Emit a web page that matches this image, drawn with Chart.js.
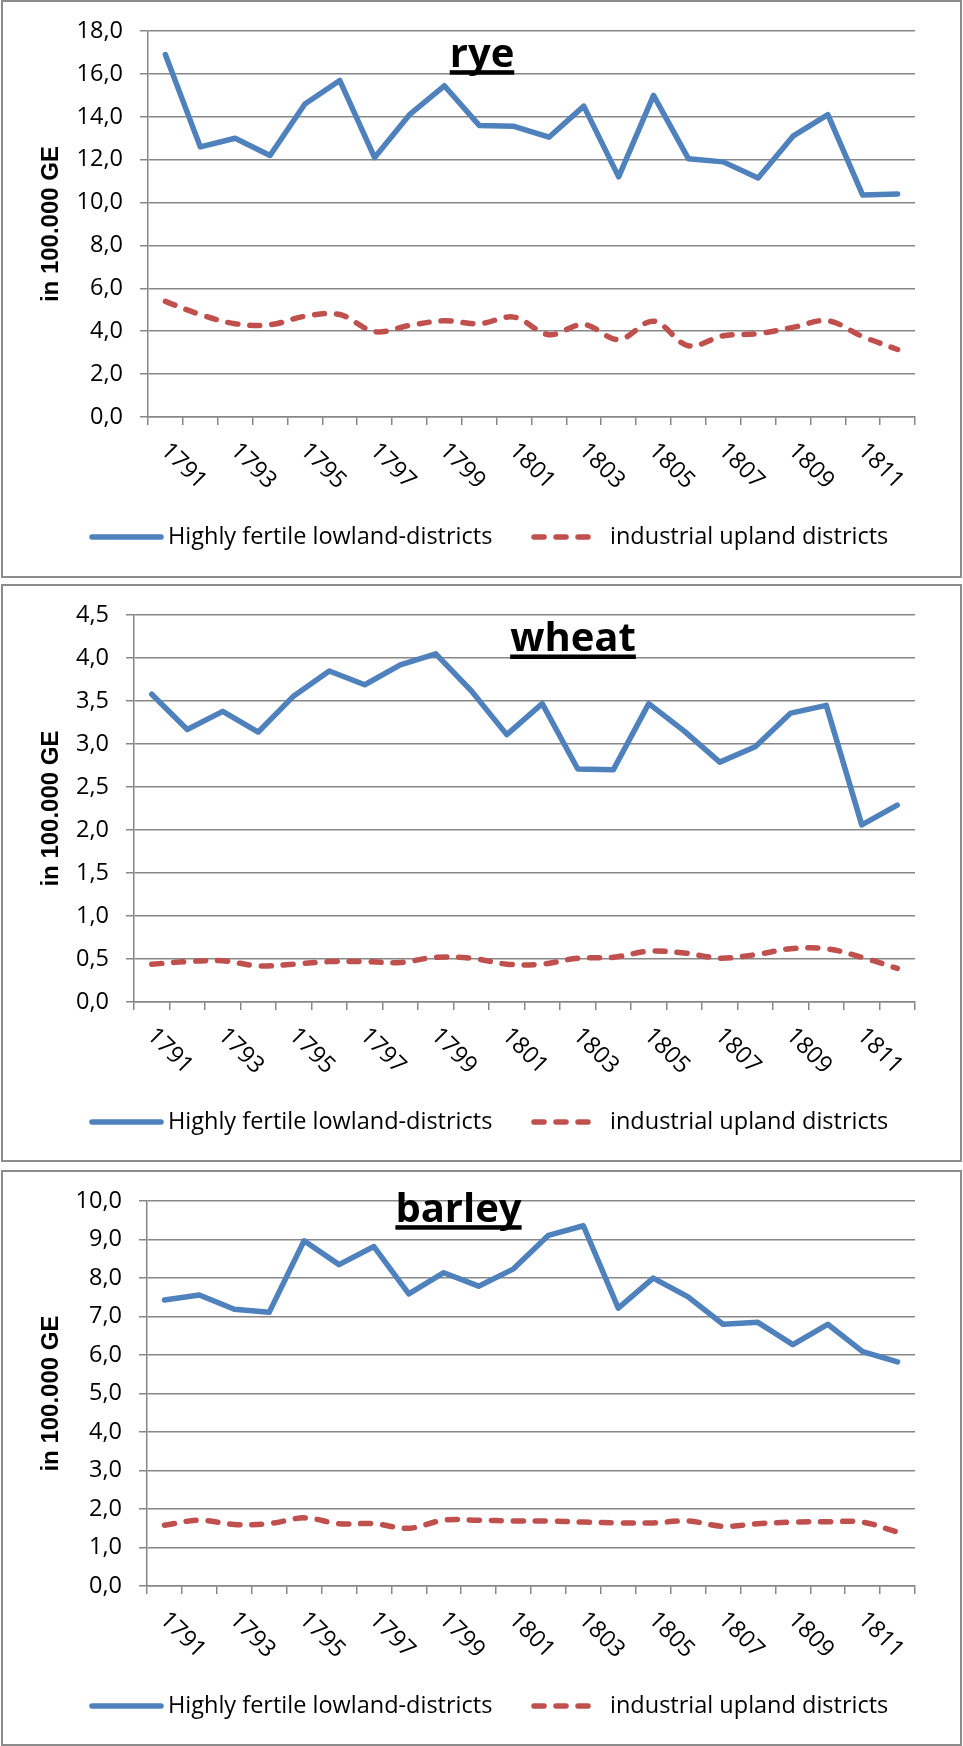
<!DOCTYPE html>
<html>
<head>
<meta charset="utf-8">
<script src="https://cdn.jsdelivr.net/npm/chart.js@4/dist/chart.umd.min.js"></script>
<style>
  body { margin: 0; background: #fff; width: 963px; height: 1746px; position: relative; overflow: hidden; }
  .panel { position: absolute; left: 1px; width: 961px; box-sizing: border-box; border: 2px solid #8c8c8c; }
  .panel canvas { position: absolute; left: -2px; top: -2px; }
</style>
</head>
<body>
<div class="panel" style="top:0;height:578px"><canvas id="rye" width="961" height="578"></canvas></div>
<div class="panel" style="top:584px;height:578px"><canvas id="wheat" width="961" height="578"></canvas></div>
<div class="panel" style="top:1170px;height:576px"><canvas id="barley" width="961" height="576"></canvas></div>
<script>
const years = ['1791', '1792', '1793', '1794', '1795', '1796', '1797', '1798', '1799', '1800', '1801',
  '1802', '1803', '1804', '1805', '1806', '1807', '1808', '1809', '1810', '1811', '1812'];

const seriesNames = ['Highly fertile lowland-districts', 'industrial upland districts'];

const ryeLowland = [16.9, 12.6, 13.0, 12.2, 14.6, 15.7, 12.1, 14.1, 15.45, 13.6, 13.56,
  13.05, 14.5, 11.2, 15.0, 12.05, 11.9, 11.15, 13.1, 14.1, 10.35, 10.4];
const ryeUpland = [5.39, 4.78, 4.35, 4.3, 4.7, 4.78, 3.98, 4.27, 4.49, 4.35, 4.66,
  3.84, 4.32, 3.61, 4.47, 3.32, 3.79, 3.89, 4.18, 4.49, 3.75, 3.15];

const wheatLowland = [3.58, 3.17, 3.38, 3.14, 3.56, 3.85, 3.69, 3.92, 4.05, 3.62, 3.11,
  3.47, 2.71, 2.7, 3.47, 3.15, 2.79, 2.97, 3.36, 3.45, 2.06, 2.29];
const wheatUpland = [0.44, 0.47, 0.48, 0.42, 0.44, 0.47, 0.47, 0.46, 0.52, 0.51, 0.44,
  0.44, 0.51, 0.52, 0.59, 0.57, 0.51, 0.55, 0.62, 0.62, 0.52, 0.39];

const barleyLowland = [7.43, 7.56, 7.19, 7.11, 8.97, 8.35, 8.82, 7.59, 8.14, 7.79, 8.24,
  9.11, 9.36, 7.22, 8.0, 7.51, 6.8, 6.85, 6.27, 6.8, 6.09, 5.82];
const barleyUpland = [1.58, 1.71, 1.6, 1.62, 1.77, 1.62, 1.62, 1.5, 1.71, 1.71, 1.69,
  1.69, 1.66, 1.64, 1.64, 1.69, 1.55, 1.62, 1.66, 1.67, 1.66, 1.4];

const ryeTicks = { max: 18, step: 2 };
const wheatTicks = { max: 4.5, step: 0.5 };
const barleyTicks = { max: 10, step: 1 };

const BLUE = '#4f81bd';
const RED = '#c0504d';
const GRID = '#878787';
const TEXT_FONT = "23.5px 'Open Sans'";

Chart.defaults.font.family = "'Open Sans', sans-serif";
Chart.defaults.font.size = 23.5;
Chart.defaults.color = '#000';

// title, rotated year labels and legend, drawn on top of the chart
const extras = {
  id: 'extras',
  afterDraw(chart, args, o) {
    const { ctx, chartArea } = chart;
    const x = chart.scales.x;
    ctx.save();
    ctx.fillStyle = '#000';

    ctx.font = TEXT_FONT;
    ctx.textAlign = 'left';
    ctx.textBaseline = 'middle';
    chart.data.labels.forEach((lab, i) => {
      if (i % 2) return;
      ctx.save();
      ctx.translate(x.getPixelForTick(i) - 1, x.top + 30);
      ctx.rotate(Math.PI / 4);
      ctx.fillText(lab, 0, 0);
      ctx.restore();
    });

    ctx.font = "bold 40px 'Open Sans'";
    ctx.textAlign = 'center';
    ctx.textBaseline = 'alphabetic';
    ctx.fillText(o.text, o.x, o.y);
    const w = ctx.measureText(o.text).width;
    ctx.fillRect(o.x - w / 2, o.y + 3.5, w, 4.5);

    const ly = chartArea.bottom + 120;
    const slots = [[91, 160, 167], [533, 590, 609]];
    chart.data.datasets.forEach((ds, i) => {
      const [x0, x1, tx] = slots[i];
      ctx.beginPath();
      ctx.lineWidth = ds.borderWidth;
      ctx.strokeStyle = ds.borderColor;
      ctx.lineCap = 'round';
      ctx.setLineDash(ds.borderDash || []);
      ctx.moveTo(x0, ly);
      ctx.lineTo(x1, ly);
      ctx.stroke();
      ctx.setLineDash([]);
      ctx.font = TEXT_FONT;
      ctx.textAlign = 'left';
      ctx.textBaseline = 'middle';
      ctx.fillText(ds.label, tx, ly);
    });
    ctx.restore();
  }
};

function makeChart(id, lowland, upland, ticks, yWidth, top, bottom, title) {
  const canvas = document.getElementById(id);
  return new Chart(canvas, {
    type: 'line',
    data: {
      labels: years,
      datasets: [
        {
          label: seriesNames[0],
          data: lowland,
          borderColor: BLUE,
          borderWidth: 5.5,
          borderJoinStyle: 'round',
          borderCapStyle: 'round',
          pointRadius: 0,
          tension: 0,
        },
        {
          label: seriesNames[1],
          data: upland,
          borderColor: RED,
          borderWidth: 5.5,
          borderDash: [10, 12],
          borderCapStyle: 'round',
          pointRadius: 0,
          tension: 0.35,
        },
      ],
    },
    options: {
      responsive: false,
      animation: false,
      devicePixelRatio: 1,
      layout: { padding: { left: 33, top: top, right: 47, bottom: canvas.height - bottom - 8 } },
      plugins: {
        legend: { display: false },
        tooltip: { enabled: false },
        extras: title,
      },
      scales: {
        x: {
          offset: true,
          ticks: { display: false },
          grid: { drawOnChartArea: false, offset: true, tickLength: 8, color: GRID, lineWidth: 1.5 },
          border: { color: GRID, width: 1.5 },
          afterFit(s) { s.height = 8; },
        },
        y: {
          min: 0,
          max: ticks.max,
          ticks: {
            stepSize: ticks.step,
            padding: 17,
            callback: (v) => v.toFixed(1).replace('.', ','),
          },
          grid: { color: GRID, lineWidth: 1.5, tickLength: 8 },
          border: { color: GRID, width: 1.5 },
          title: {
            display: true,
            text: 'in 100.000 GE',
            color: '#000',
            font: { family: "'Liberation Sans', Arial, sans-serif", size: 24, weight: 'bold' },
            padding: { top: 3, bottom: 0 },
          },
          afterFit(s) { s.width = yWidth; },
        },
      },
    },
    plugins: [extras],
  });
}

makeChart('rye', ryeLowland, ryeUpland, ryeTicks, 114, 30, 417, { text: 'rye', x: 481, y: 66.7 });
makeChart('wheat', wheatLowland, wheatUpland, wheatTicks, 100, 31, 418, { text: 'wheat', x: 572, y: 67 });
makeChart('barley', barleyLowland, barleyUpland, barleyTicks, 113, 30, 416, { text: 'barley', x: 457.5, y: 51.7 });
</script>
</body>
</html>
